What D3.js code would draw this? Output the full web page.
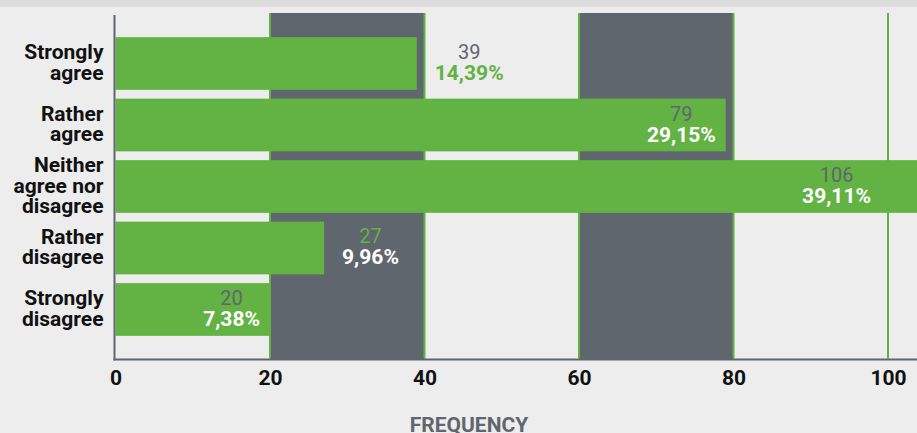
<!DOCTYPE html>
<html>
<head>
<meta charset="utf-8">
<script src="https://cdn.jsdelivr.net/npm/d3@7"></script>
<style>
  html, body { margin: 0; padding: 0; background: #ededed; }
  svg { display: block; font-family: Roboto, "DejaVu Sans", sans-serif; }
</style>
</head>
<body>
<svg id="chart" width="917" height="433"></svg>
<script>
// Survey answers and how many respondents gave each one
const categories = ["Strongly agree", "Rather agree", "Neither agree nor disagree", "Rather disagree", "Strongly disagree"];
const categoryLines = [["Strongly", "agree"], ["Rather", "agree"], ["Neither", "agree nor", "disagree"], ["Rather", "disagree"], ["Strongly", "disagree"]];
const counts = [39, 79, 106, 27, 20];
const xTicks = [0, 20, 40, 60, 80, 100];
const axisTitle = "FREQUENCY";

const W = 917, H = 433;
const green = "#62b244", slate = "#5f666d", bg = "#ededed";

const svg = d3.select("#chart");
const total = d3.sum(counts);
const pct = v => (v / total * 100).toFixed(2).replace(".", ",") + "%";

const x = d3.scaleLinear().domain([0, 100]).range([115.5, 888]);
const y = d3.scaleBand().domain(categories).range([31, 342]).paddingInner(0.143).paddingOuter(0.1);

const plotTop = 13, axisY = 359.5;

// page background and top strip
svg.append("rect").attr("width", W).attr("height", H).attr("fill", bg);
svg.append("rect").attr("width", W).attr("height", 7).attr("fill", "#dcdcdc");

// alternating dark bands between every other pair of ticks
const bands = [];
for (let i = 1; i + 1 < xTicks.length; i += 2) bands.push([xTicks[i], xTicks[i + 1]]);
const inBand = px => bands.some(([a, b]) => px >= x(a) && px <= x(b));

svg.append("g").selectAll("rect").data(bands).join("rect")
  .attr("x", d => x(d[0])).attr("width", d => x(d[1]) - x(d[0]))
  .attr("y", plotTop).attr("height", axisY - plotTop)
  .attr("fill", slate);

// green grid lines
svg.append("g").selectAll("line").data(xTicks.filter(t => t > 0)).join("line")
  .attr("x1", d => x(d)).attr("x2", d => x(d))
  .attr("y1", plotTop).attr("y2", axisY - 1)
  .attr("stroke", green).attr("stroke-width", 2);

// bars
svg.append("g").selectAll("rect").data(categories).join("rect")
  .attr("x", x(0)).attr("y", d => y(d))
  .attr("width", (d, i) => x(counts[i]) - x(0))
  .attr("height", y.bandwidth())
  .attr("fill", green);

// value labels: count above, share below
const insideLabel = new Set(["Rather agree", "Neither agree nor disagree", "Strongly disagree"]);
const labelMaxRight = 881;
const lab = svg.append("g").attr("text-anchor", "middle");
categories.forEach((c, i) => {
  const v = counts[i];
  const end = x(v);
  const cy = y(c) + y.bandwidth() / 2;
  const inside = insideLabel.has(c);
  const p = lab.append("text")
    .attr("y", cy + 16.5)
    .attr("font-size", 21).attr("font-weight", 700)
    .text(pct(v));
  const w = p.node().getComputedTextLength();
  const cx = inside ? Math.min(end, labelMaxRight) - 10 - w / 2 : end + 18 + w / 2;
  const onDark = !inside && inBand(cx);
  p.attr("x", cx).attr("fill", inside || onDark ? "#ffffff" : green);
  lab.append("text")
    .attr("x", cx).attr("y", cy - 4.5)
    .attr("font-size", 20).attr("font-weight", 400)
    .attr("fill", onDark ? green : slate)
    .text(v);
});

// bottom axis
const xAxis = svg.append("g").attr("transform", `translate(0,${axisY})`)
  .call(d3.axisBottom(x).tickValues(xTicks).tickSize(0).tickPadding(11).tickFormat(d3.format("d")));
xAxis.select(".domain").remove();
xAxis.selectAll("text").attr("font-size", 21).attr("font-weight", 700).attr("fill", "#111")
  .attr("font-family", "Roboto, 'DejaVu Sans', sans-serif");
svg.append("line").attr("x1", x(0) - 2).attr("x2", W).attr("y1", axisY).attr("y2", axisY)
  .attr("stroke", slate).attr("stroke-width", 2);

// left axis with wrapped category names
const yAxis = svg.append("g").attr("transform", `translate(${x(0) - 1},0)`)
  .call(d3.axisLeft(y).tickSize(0).tickPadding(11));
yAxis.select(".domain").remove();
yAxis.selectAll(".tick text").each(function (d) {
  const lines = categoryLines[categories.indexOf(d)];
  const t = d3.select(this).text(null).attr("dy", null)
    .attr("font-size", 21).attr("font-weight", 700).attr("fill", "#111")
    .attr("font-family", "Roboto, 'DejaVu Sans', sans-serif");
  const yc = y.bandwidth() / 2;
  lines.forEach((ln, k) => {
    t.append("tspan").attr("x", -11)
      .attr("y", 6 + (k - (lines.length - 1) / 2) * 20.5)
      .text(ln);
  });
});
svg.append("line").attr("x1", x(0) - 1).attr("x2", x(0) - 1).attr("y1", 15).attr("y2", axisY + 1)
  .attr("stroke", slate).attr("stroke-width", 2);

// axis title
svg.append("text").attr("x", 469).attr("y", 432).attr("text-anchor", "middle")
  .attr("font-size", 21).attr("font-weight", 700).attr("fill", slate)
  .text(axisTitle);
</script>
</body>
</html>
